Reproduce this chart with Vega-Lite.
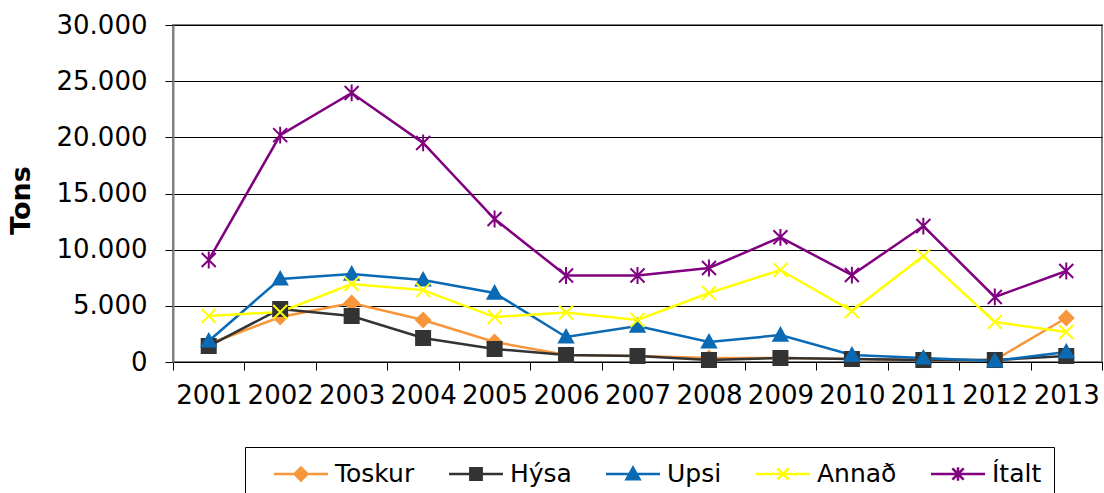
{
  "$schema": "https://vega.github.io/schema/vega-lite/v6.json",
  "width": 929,
  "height": 337,
  "autosize": "none",
  "padding": {"left": 173, "top": 25, "right": 2, "bottom": 131},
  "background": "white",
  "config": {
    "view": {"fill": "#E0E0E0", "stroke": "#808080", "strokeWidth": 2},
    "font": "DejaVu Sans"
  },
  "data": {
    "values": [
      {"year": "2001", "series": "Toskur", "value": 1600},
      {"year": "2002", "series": "Toskur", "value": 4000},
      {"year": "2003", "series": "Toskur", "value": 5250},
      {"year": "2004", "series": "Toskur", "value": 3740},
      {"year": "2005", "series": "Toskur", "value": 1780},
      {"year": "2006", "series": "Toskur", "value": 620},
      {"year": "2007", "series": "Toskur", "value": 530},
      {"year": "2008", "series": "Toskur", "value": 360},
      {"year": "2009", "series": "Toskur", "value": 360},
      {"year": "2010", "series": "Toskur", "value": 270},
      {"year": "2011", "series": "Toskur", "value": 180},
      {"year": "2012", "series": "Toskur", "value": 180},
      {"year": "2013", "series": "Toskur", "value": 3920},
      {"year": "2001", "series": "Hýsa", "value": 1420},
      {"year": "2002", "series": "Hýsa", "value": 4720},
      {"year": "2003", "series": "Hýsa", "value": 4100},
      {"year": "2004", "series": "Hýsa", "value": 2140},
      {"year": "2005", "series": "Hýsa", "value": 1160},
      {"year": "2006", "series": "Hýsa", "value": 620},
      {"year": "2007", "series": "Hýsa", "value": 530},
      {"year": "2008", "series": "Hýsa", "value": 180},
      {"year": "2009", "series": "Hýsa", "value": 360},
      {"year": "2010", "series": "Hýsa", "value": 270},
      {"year": "2011", "series": "Hýsa", "value": 180},
      {"year": "2012", "series": "Hýsa", "value": 180},
      {"year": "2013", "series": "Hýsa", "value": 530},
      {"year": "2001", "series": "Upsi", "value": 1870},
      {"year": "2002", "series": "Upsi", "value": 7390},
      {"year": "2003", "series": "Upsi", "value": 7830},
      {"year": "2004", "series": "Upsi", "value": 7300},
      {"year": "2005", "series": "Upsi", "value": 6140},
      {"year": "2006", "series": "Upsi", "value": 2230},
      {"year": "2007", "series": "Upsi", "value": 3200},
      {"year": "2008", "series": "Upsi", "value": 1780},
      {"year": "2009", "series": "Upsi", "value": 2400},
      {"year": "2010", "series": "Upsi", "value": 620},
      {"year": "2011", "series": "Upsi", "value": 360},
      {"year": "2012", "series": "Upsi", "value": 90},
      {"year": "2013", "series": "Upsi", "value": 890},
      {"year": "2001", "series": "Annað", "value": 4100},
      {"year": "2002", "series": "Annað", "value": 4450},
      {"year": "2003", "series": "Annað", "value": 6940},
      {"year": "2004", "series": "Annað", "value": 6400},
      {"year": "2005", "series": "Annað", "value": 4000},
      {"year": "2006", "series": "Annað", "value": 4400},
      {"year": "2007", "series": "Annað", "value": 3740},
      {"year": "2008", "series": "Annað", "value": 6140},
      {"year": "2009", "series": "Annað", "value": 8190},
      {"year": "2010", "series": "Annað", "value": 4540},
      {"year": "2011", "series": "Annað", "value": 9440},
      {"year": "2012", "series": "Annað", "value": 3560},
      {"year": "2013", "series": "Annað", "value": 2670},
      {"year": "2001", "series": "Ítalt", "value": 9080},
      {"year": "2002", "series": "Ítalt", "value": 20200},
      {"year": "2003", "series": "Ítalt", "value": 23950},
      {"year": "2004", "series": "Ítalt", "value": 19500},
      {"year": "2005", "series": "Ítalt", "value": 12730},
      {"year": "2006", "series": "Ítalt", "value": 7700},
      {"year": "2007", "series": "Ítalt", "value": 7700},
      {"year": "2008", "series": "Ítalt", "value": 8370},
      {"year": "2009", "series": "Ítalt", "value": 11100},
      {"year": "2010", "series": "Ítalt", "value": 7740},
      {"year": "2011", "series": "Ítalt", "value": 12100},
      {"year": "2012", "series": "Ítalt", "value": 5790},
      {"year": "2013", "series": "Ítalt", "value": 8100}
    ]
  },
  "layer": [
    {
      "mark": {"type": "line", "strokeWidth": 2.5},
      "encoding": {
        "x": {
          "field": "year", "type": "ordinal",
          "scale": {"type": "band", "paddingInner": 0, "paddingOuter": 0},
          "axis": {
            "title": null, "labelAngle": 0, "tickBand": "extent", "tickSize": 8,
            "tickColor": "#000000", "domainColor": "#000000", "domainWidth": 1,
            "labelPadding": 12, "labelFontSize": 26, "labelFont": "DejaVu Sans",
            "labelColor": "#000000", "grid": false
          }
        },
        "y": {
          "field": "value", "type": "quantitative",
          "scale": {"domain": [0, 30000], "nice": false},
          "axis": {
            "values": [0, 5000, 10000, 15000, 20000, 25000, 30000],
            "labelExpr": "replace(format(datum.value, ','), ',', '.')",
            "grid": true, "gridColor": "#000000", "gridWidth": 1,
            "tickSize": 8, "tickColor": "#000000", "domainColor": "#808080", "domainWidth": 2,
            "labelPadding": 18, "labelFontSize": 26, "labelFont": "DejaVu Sans", "labelColor": "#000000",
            "title": "Tons", "titleFontWeight": "bold", "titleFontSize": 27, "titleFont": "DejaVu Sans",
            "titleColor": "#000000", "titleAngle": 270, "titleX": -152, "titleY": 175,
            "titleBaseline": "middle", "titleAlign": "center"
          }
        },
        "color": {
          "field": "series", "type": "nominal",
          "scale": {"domain": ["Toskur", "Hýsa", "Upsi", "Annað", "Ítalt"], "range": ["#F7963A", "#333333", "#0A6AB4", "#FFFF00", "#800080"]},
          "legend": null
        }
      }
    },
    {
      "mark": {"type": "point", "filled": true, "size": 196, "strokeWidth": 2, "opacity": 1},
      "encoding": {
        "x": {"field": "year", "type": "ordinal"},
        "y": {"field": "value", "type": "quantitative"},
        "color": {
          "field": "series", "type": "nominal",
          "scale": {"domain": ["Toskur", "Hýsa", "Upsi", "Annað", "Ítalt"], "range": ["#F7963A", "#333333", "#0A6AB4", "#FFFF00", "#800080"]},
          "legend": null
        },
        "stroke": {
          "field": "series", "type": "nominal",
          "scale": {"domain": ["Toskur", "Hýsa", "Upsi", "Annað", "Ítalt"], "range": ["#F7963A", "#333333", "#0A6AB4", "#FFFF00", "#800080"]},
          "legend": null
        },
        "shape": {
          "field": "series", "type": "nominal",
          "scale": {"domain": ["Toskur", "Hýsa", "Upsi", "Annað", "Ítalt"], "range": [
            "M0,-1L1,0L0,1L-1,0Z",
            "M-1,-1L1,-1L1,1L-1,1Z",
            "M0,-1L1,0.8L-1,0.8Z",
            "M-1,-1L1,1M-1,1L1,-1",
            "M-1,-1L1,1M-1,1L1,-1M0,-1.2L0,1.2"
          ]},
          "legend": null
        }
      }
    },
    {
      "transform": [{"filter": "false"}],
      "mark": {"type": "point", "filled": true, "size": 729, "strokeWidth": 2, "opacity": 1},
      "encoding": {
        "color": {
          "field": "series", "type": "nominal",
          "scale": {"domain": ["Toskur", "Hýsa", "Upsi", "Annað", "Ítalt"], "range": ["#F7963A", "#333333", "#0A6AB4", "#FFFF00", "#800080"]},
          "legend": {
            "title": null, "orient": "none", "direction": "horizontal", "legendX": 72, "legendY": 422,
            "padding": 12, "strokeColor": "#000000", "fillColor": "#FFFFFF",
            "labelFontSize": 25, "labelFont": "DejaVu Sans", "labelColor": "#000000",
            "symbolSize": 729, "symbolOffset": 29, "labelOffset": 19, "columnPadding": 17,
            "symbolStrokeWidth": 2.5, "symbolOpacity": 1
          }
        },
        "stroke": {
          "field": "series", "type": "nominal",
          "scale": {"domain": ["Toskur", "Hýsa", "Upsi", "Annað", "Ítalt"], "range": ["#F7963A", "#333333", "#0A6AB4", "#FFFF00", "#800080"]},
          "legend": {
            "title": null, "orient": "none", "direction": "horizontal", "legendX": 72, "legendY": 422,
            "padding": 12, "strokeColor": "#000000", "fillColor": "#FFFFFF",
            "labelFontSize": 25, "labelFont": "DejaVu Sans", "labelColor": "#000000",
            "symbolSize": 729, "symbolOffset": 29, "labelOffset": 19, "columnPadding": 17,
            "symbolStrokeWidth": 2.5, "symbolOpacity": 1
          }
        },
        "shape": {
          "field": "series", "type": "nominal",
          "scale": {"domain": ["Toskur", "Hýsa", "Upsi", "Annað", "Ítalt"], "range": [
            "M-2,0L2,0M0,-0.48L0.48,0L0,0.48L-0.48,0Z",
            "M-2,0L2,0M-0.42,-0.42L0.42,-0.42L0.42,0.42L-0.42,0.42Z",
            "M-2,0L2,0M0,-0.48L0.48,0.38L-0.48,0.38Z",
            "M-2,0L2,0M-0.42,-0.42L0.42,0.42M-0.42,0.42L0.42,-0.42",
            "M-2,0L2,0M-0.42,-0.42L0.42,0.42M-0.42,0.42L0.42,-0.42M0,-0.5L0,0.5"
          ]},
          "legend": {
            "title": null, "orient": "none", "direction": "horizontal", "legendX": 72, "legendY": 422,
            "padding": 12, "strokeColor": "#000000", "fillColor": "#FFFFFF",
            "labelFontSize": 25, "labelFont": "DejaVu Sans", "labelColor": "#000000",
            "symbolSize": 729, "symbolOffset": 29, "labelOffset": 19, "columnPadding": 17,
            "symbolStrokeWidth": 2.5, "symbolOpacity": 1
          }
        }
      }
    }
  ],
  "resolve": {"scale": {"color": "independent", "stroke": "independent", "shape": "independent"}}
}
